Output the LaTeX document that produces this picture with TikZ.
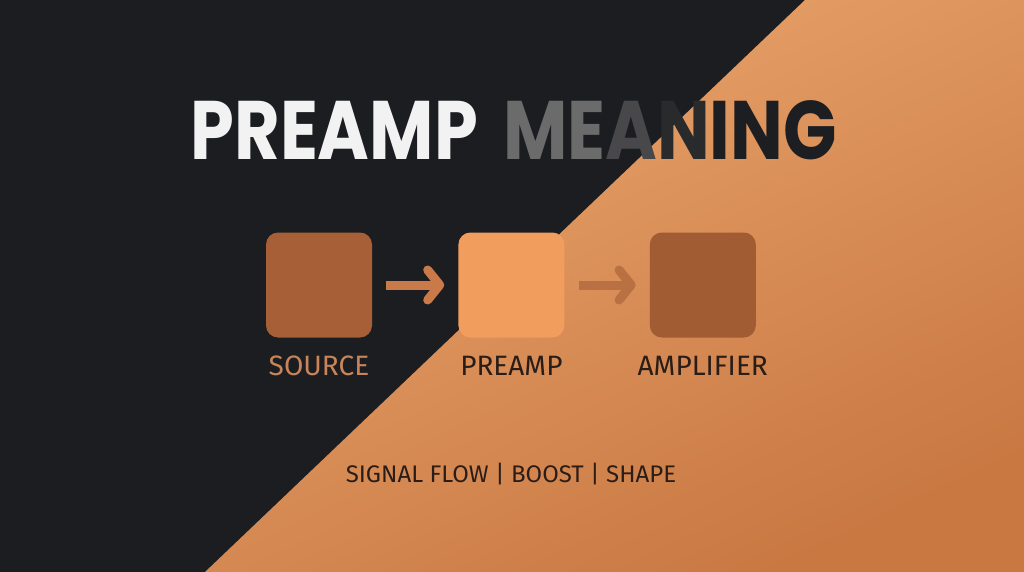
\documentclass[tikz,border=0pt]{standalone}
\usepackage{fontspec}
\setmainfont{Poppins}
\newfontfamily\labelfont{Fira Sans}
\usetikzlibrary{positioning}
\usetikzlibrary{arrows.meta}
\usepackage{xcolor}

\definecolor{darkbg}{HTML}{1B1D20}
\definecolor{copperlight}{HTML}{EAA56D}
\definecolor{copperdark}{HTML}{C97842}
\definecolor{boxdark}{HTML}{A65F36}
\definecolor{boxlight}{HTML}{F19D5E}
\definecolor{arrowcol}{HTML}{C97A48}
\definecolor{titlegray}{HTML}{6B6B6B}
\definecolor{titledark}{HTML}{1D1E21}
\definecolor{inkdark}{HTML}{2A1D17}
\definecolor{labeltan}{HTML}{C8845A}

\tikzset{
  block/.style={rounded corners=12pt, minimum width=106pt, minimum height=105pt, inner sep=0pt},
  flow/.style={line width=9pt, arrowcol, -{Straight Barb[round,length=12pt,width=30pt]},
    shorten <=14pt, shorten >=14pt},
  caption/.style={font=\labelfont\fontsize{28}{28}\selectfont, inner sep=0pt},
  headline/.style={font=\bfseries\fontsize{83}{83}\selectfont, inner sep=0pt, xscale=0.845},
}

\begin{document}
\begin{tikzpicture}[x=1pt,y=-1pt]
  \useasboundingbox (0,0) rectangle (1024,572);
  \fill[darkbg] (0,0) rectangle (1024,572);
  \shade[top color=copperlight, bottom color=copperdark, shading angle=25]
    (805,0) -- (1024,0) -- (1024,572) -- (205,572) -- cycle;

  % title, second word fades into the dark
  \node[headline, white!95!black, anchor=base east] (titleA) at (478,160) {PREAMP};
  \node[headline, anchor=base west] (titleB) at (503,160)
    {\textcolor{titlegray}{ME}\textcolor{titlegray!55!titledark}{A}\textcolor{titlegray!15!titledark}{N}\textcolor{titledark}{ING}};

  % the chain
  \node[block, fill=boxdark] (source) at (319,285) {};
  \node[block, fill=boxlight, right=86pt of source] (preamp) {};
  \node[block, fill=boxdark!97!black, right=85pt of preamp] (amp) {};
  \draw[flow] (source) -- (preamp);
  \draw[flow, arrowcol!92!black] (preamp) -- (amp);

  \node[caption, labeltan, anchor=base] (srclbl) at ([yshift=-38pt]source.south) {SOURCE};
  \node[caption, inkdark, anchor=base] (prelbl) at ([yshift=-38pt]preamp.south) {PREAMP};
  \node[caption, inkdark, anchor=base] (amplbl) at ([yshift=-38pt]amp.south) {AMPLIFIER};

  \node[caption, inkdark, font=\labelfont\fontsize{24}{24}\selectfont, anchor=base] (tagline)
    at (511,482) {SIGNAL FLOW | BOOST | SHAPE};
\end{tikzpicture}
\end{document}
